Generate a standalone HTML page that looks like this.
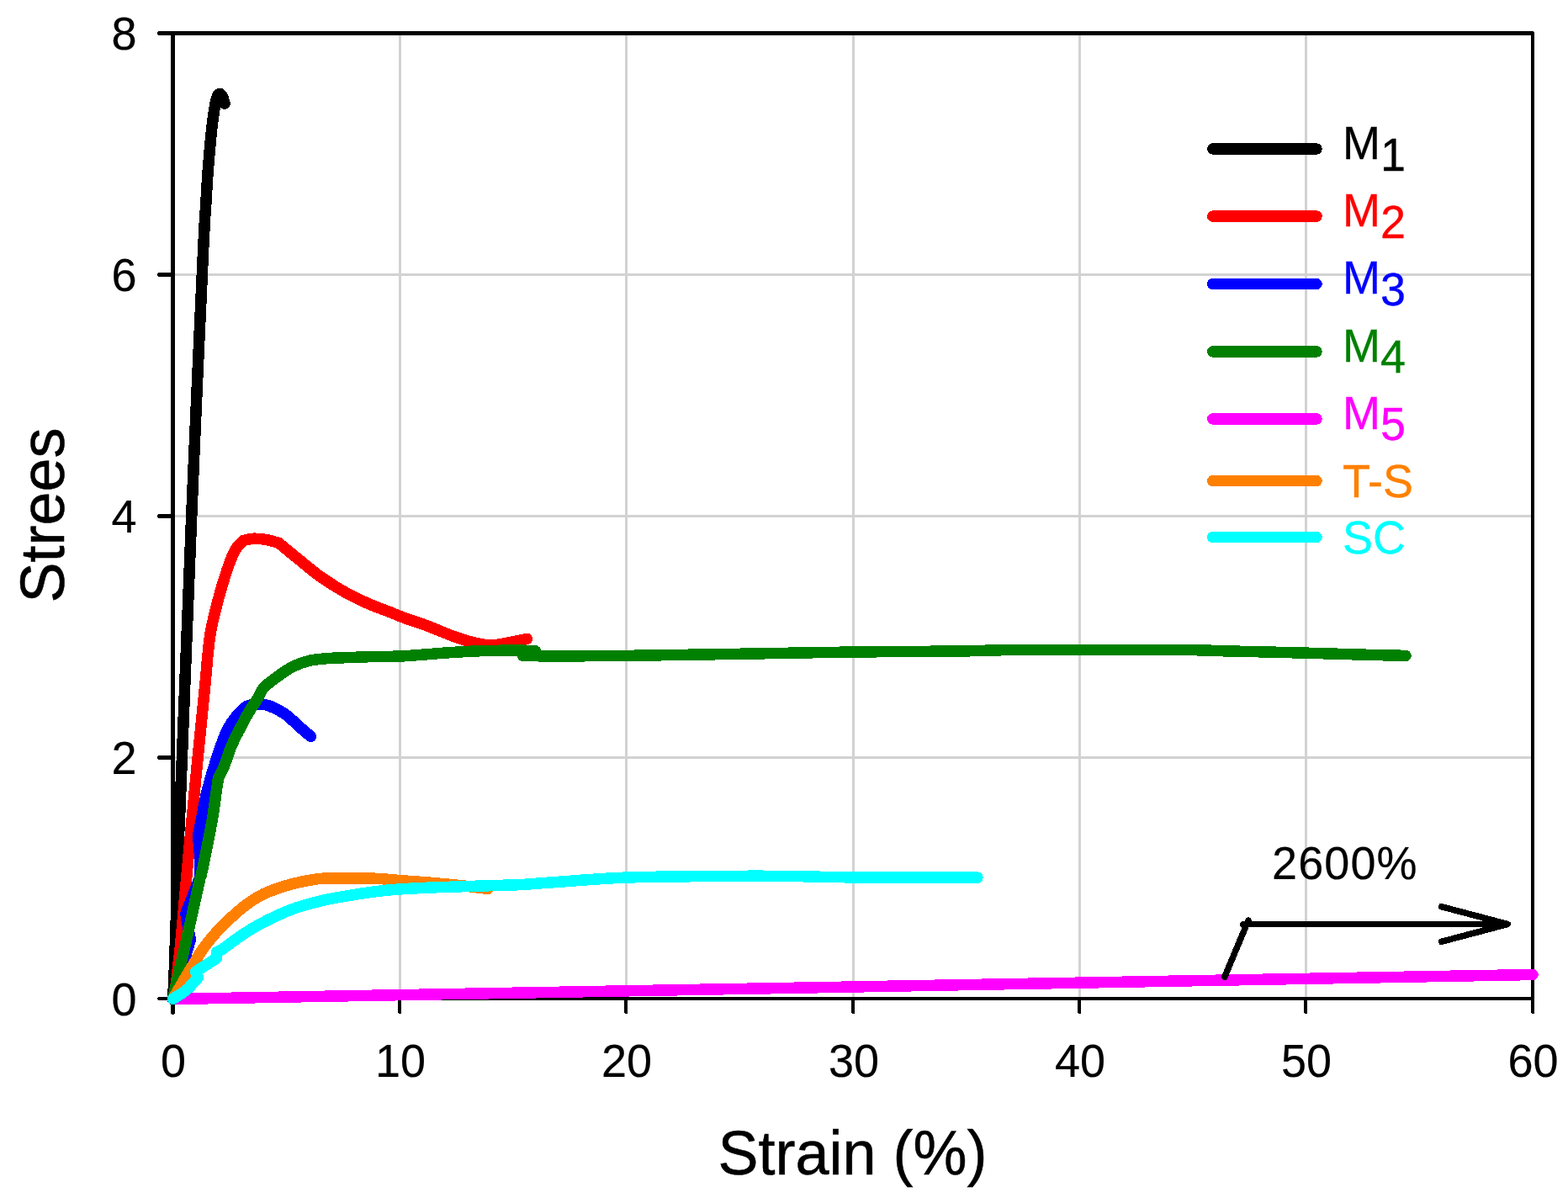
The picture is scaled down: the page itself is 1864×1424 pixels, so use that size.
<!DOCTYPE html>
<html lang="en"><head><meta charset="utf-8"><title>Stress-strain curves</title>
<style>
html,body{margin:0;padding:0;background:#fff;}
body{width:1864px;height:1424px;overflow:hidden;}
svg{display:block;}
text{font-family:"Liberation Sans",Arial,Helvetica,sans-serif;}
.tick{font-size:54px;fill:#000;stroke:#000;stroke-width:0.2px;}
.title{font-size:72px;fill:#000;stroke:#000;stroke-width:0.5px;}
.leg{font-size:54px;stroke-width:0.3px;}
.crv{fill:none;stroke-width:13.5;stroke-linecap:round;stroke-linejoin:round;shape-rendering:crispEdges;}
</style></head><body>
<svg width="1864" height="1424" viewBox="0 0 1864 1424" role="img" aria-label="Stress-strain curves">
<rect x="0" y="0" width="1864" height="1424" fill="#ffffff"/>
<g fill="#d2d2d2" shape-rendering="crispEdges">
<rect x="474" y="42" width="3" height="1143"/>
<rect x="743" y="42" width="3" height="1143"/>
<rect x="1013" y="42" width="3" height="1143"/>
<rect x="1282" y="42" width="3" height="1143"/>
<rect x="1551" y="42" width="3" height="1143"/>
<rect x="208" y="325" width="1612" height="3"/>
<rect x="208" y="612" width="1612" height="3"/>
<rect x="208" y="899" width="1612" height="3"/>
</g>
<g fill="#000" shape-rendering="crispEdges">
<rect x="203" y="37" width="5" height="1168"/>
<rect x="188" y="37" width="1635" height="5"/>
<rect x="187" y="38" width="1" height="3"/>
<rect x="1820" y="38" width="4" height="1166"/>
<rect x="1821" y="1204" width="3" height="1"/>
<rect x="188" y="1185" width="1636" height="4"/>
<rect x="187" y="1186" width="1" height="2"/>
<rect x="188" y="324" width="15" height="5"/>
<rect x="187" y="325" width="1" height="3"/>
<rect x="188" y="611" width="15" height="5"/>
<rect x="187" y="612" width="1" height="3"/>
<rect x="188" y="898" width="15" height="5"/>
<rect x="187" y="899" width="1" height="3"/>
<rect x="473" y="1189" width="4" height="15"/>
<rect x="474" y="1204" width="3" height="1"/>
<rect x="742" y="1189" width="4" height="15"/>
<rect x="743" y="1204" width="3" height="1"/>
<rect x="1012" y="1189" width="4" height="15"/>
<rect x="1013" y="1204" width="3" height="1"/>
<rect x="1281" y="1189" width="4" height="15"/>
<rect x="1282" y="1204" width="3" height="1"/>
<rect x="1550" y="1189" width="4" height="15"/>
<rect x="1551" y="1204" width="3" height="1"/>
<rect x="204" y="1205" width="3" height="0.5"/>
</g>
<path class="crv" stroke="#000000" d="M205.5,1187.5 C205.8,1181.2 206.2,1181.5 207.4,1150.0 C208.6,1118.5 211.3,1029.5 212.4,998.3 C213.5,967.1 213.3,978.5 213.9,963.0 C214.5,947.5 215.0,936.3 216.2,905.0 C217.4,873.7 218.9,835.5 221.3,775.0 C223.7,714.5 227.3,621.2 230.7,542.0 C234.1,462.8 239.1,350.3 241.5,300.0 C243.9,249.7 243.9,257.4 244.9,240.4 C245.9,223.5 246.5,212.3 247.6,198.3 C248.7,184.3 250.2,167.9 251.4,156.2 C252.7,144.5 254.0,134.8 255.1,128.1 C256.2,121.4 256.8,118.8 257.8,116.0 C258.8,113.2 259.9,111.7 261.0,111.4 C262.1,111.2 263.3,112.6 264.3,114.5 C265.3,116.4 266.6,121.6 267.0,123.0"/>
<path class="crv" stroke="#ff0000" d="M205.5,1187.5 C206.2,1184.2 208.6,1174.4 209.6,1167.8 C210.6,1161.2 210.8,1156.0 211.7,1148.0 C212.6,1140.0 213.2,1138.0 214.9,1120.0 C216.6,1102.0 219.7,1065.2 222.0,1040.0 C224.3,1014.8 226.4,992.1 228.6,968.8 C230.8,945.5 232.6,926.5 235.2,900.0 C237.8,873.5 242.2,830.2 244.2,810.0 C246.2,789.8 245.9,788.4 247.0,778.5 C248.1,768.6 248.8,759.8 250.5,750.4 C252.2,741.0 254.5,731.8 256.9,722.4 C259.2,713.0 261.8,703.7 264.6,694.3 C267.5,684.9 271.3,673.2 274.0,666.2 C276.7,659.2 278.1,656.1 280.7,652.1 C283.3,648.1 287.9,644.1 289.4,642.5 C291.5,642.1 297.2,640.4 301.8,640.2 C306.4,640.1 312.3,640.7 317.2,641.6 C322.1,642.5 328.9,644.8 331.3,645.4 C334.8,648.3 344.2,656.1 352.4,662.7 C360.6,669.3 371.0,678.4 380.4,685.1 C389.8,691.8 399.1,697.7 408.5,703.0 C417.9,708.3 427.2,712.8 436.6,717.0 C446.0,721.2 457.5,725.1 464.7,728.0 C471.9,730.9 472.8,731.6 480.0,734.2 C487.2,736.9 498.6,740.4 507.9,743.9 C517.2,747.4 527.7,752.1 535.8,755.1 C543.9,758.1 549.7,760.2 556.7,762.1 C563.7,764.0 571.8,765.8 577.6,766.5 C583.4,767.2 587.0,766.7 591.6,766.2 C596.2,765.7 600.9,764.6 605.5,763.7 C610.1,762.8 616.0,761.7 619.5,761.0 C623.0,760.3 625.3,759.6 626.5,759.3"/>
<path class="crv" stroke="#0000ff" d="M205.5,1187.5 C209.0,1175.8 222.8,1128.8 226.3,1117.0 C225.4,1111.8 221.7,1091.2 220.8,1086.0 C223.0,1080.4 231.1,1059.7 234.0,1052.4 C236.9,1045.1 237.3,1043.7 238.0,1042.0 C237.9,1038.0 237.9,1026.1 237.5,1018.0 C237.1,1009.9 235.8,997.5 235.5,993.4 C236.3,989.3 238.6,977.8 240.4,968.8 C242.2,959.8 243.6,950.3 246.4,939.3 C249.2,928.3 253.4,914.0 257.0,903.0 C260.6,892.0 264.4,881.0 267.7,873.2 C271.0,865.5 272.9,862.0 277.0,856.5 C281.1,851.0 287.6,843.7 292.0,840.5 C296.4,837.3 299.2,837.5 303.6,837.1 C308.0,836.8 312.6,836.5 318.3,838.4 C324.0,840.2 331.4,843.7 338.0,848.2 C344.6,852.7 352.5,860.9 357.7,865.4 C362.9,869.9 367.4,873.7 369.4,875.4"/>
<path class="crv" stroke="#008000" d="M205.5,1187.5 C205.9,1185.6 206.6,1182.5 208.0,1176.2 C209.4,1170.0 211.8,1159.4 214.0,1150.0 C216.2,1140.6 217.2,1136.7 221.0,1120.0 C224.8,1103.3 233.5,1063.3 236.5,1050.0 C239.5,1036.7 238.0,1045.3 239.2,1040.0 C240.4,1034.7 242.5,1025.0 243.9,1018.0 C245.3,1011.0 246.2,1006.5 247.8,998.3 C249.4,990.1 251.6,978.6 253.2,968.8 C254.8,959.0 256.3,946.7 257.4,939.3 C258.5,931.9 259.2,927.0 259.6,924.5 C260.8,922.1 264.2,916.1 266.7,910.0 C269.2,903.9 271.7,895.0 274.6,888.0 C277.5,881.0 280.8,874.8 284.1,868.3 C287.4,861.8 290.7,855.2 294.5,848.7 C298.3,842.2 303.8,834.2 307.0,829.0 C310.2,823.8 310.0,821.4 313.5,817.5 C317.0,813.6 322.5,809.7 328.2,805.5 C333.9,801.3 341.2,795.9 347.8,792.5 C354.4,789.1 360.9,787.0 367.5,785.4 C374.1,783.8 381.8,783.3 387.2,782.8 C392.6,782.2 391.9,782.4 400.0,782.1 C408.1,781.8 422.7,781.2 436.0,780.8 C449.3,780.4 463.4,780.7 480.0,779.8 C496.6,778.9 519.5,776.6 535.8,775.6 C552.1,774.6 563.6,773.9 577.6,773.5 C591.6,773.1 609.7,773.2 619.5,773.2 C629.3,773.2 633.7,773.7 636.5,773.8 C634.0,774.7 624.0,778.4 621.5,779.3 C627.9,779.4 639.5,780.0 660.0,780.0 C680.5,780.0 706.5,779.9 744.8,779.4 C783.1,778.9 844.8,777.8 889.7,777.1 C934.6,776.4 972.6,775.5 1014.3,775.0 C1056.0,774.5 1107.0,774.4 1140.0,774.0 C1173.0,773.6 1168.7,772.8 1212.0,772.5 C1255.3,772.2 1358.9,772.3 1400.0,772.5 C1441.1,772.7 1433.0,773.3 1458.7,773.9 C1484.4,774.5 1525.0,775.4 1554.0,776.2 C1583.0,777.0 1613.0,778.0 1632.5,778.5 C1652.0,779.0 1664.6,779.2 1671.0,779.4"/>
<path class="crv" stroke="#ff00ff" d="M205.5,1187.5 L1822.0,1158.5"/>
<path class="crv" stroke="#ff8000" d="M205.5,1187.5 C211.2,1177.9 230.8,1143.7 239.8,1130.1 C248.8,1116.5 252.9,1113.0 259.5,1105.7 C266.1,1098.5 272.6,1092.4 279.2,1086.6 C285.8,1080.8 292.2,1075.5 298.8,1071.1 C305.4,1066.7 310.3,1063.7 318.5,1060.3 C326.7,1056.9 338.2,1053.1 348.0,1050.5 C357.8,1047.9 368.8,1045.9 377.5,1044.8 C386.2,1043.7 388.4,1044.0 400.0,1043.9 C411.6,1043.8 434.6,1043.8 447.2,1044.3 C459.8,1044.8 463.8,1045.7 475.6,1046.6 C487.4,1047.5 505.4,1048.7 518.0,1049.8 C530.6,1050.9 540.7,1051.9 551.0,1053.0 C561.3,1054.1 575.2,1055.8 580.0,1056.4"/>
<path class="crv" stroke="#00ffff" d="M205.5,1187.5 C208.2,1185.7 217.0,1180.6 222.0,1176.4 C227.0,1172.2 233.1,1164.5 235.3,1162.1 C234.8,1160.9 233.0,1156.3 232.5,1155.1 C236.7,1152.4 253.3,1141.7 257.5,1139.0 C257.6,1137.8 257.8,1132.8 257.8,1131.5 C258.9,1131.0 260.8,1130.6 264.4,1128.2 C268.0,1125.8 273.5,1121.3 279.2,1117.3 C284.9,1113.3 292.2,1108.3 298.8,1104.3 C305.4,1100.3 310.3,1097.5 318.5,1093.5 C326.7,1089.5 338.2,1084.1 348.0,1080.5 C357.8,1076.9 368.8,1074.0 377.5,1071.8 C386.2,1069.5 388.4,1069.0 400.0,1067.0 C411.6,1065.0 434.6,1061.3 447.2,1059.6 C459.8,1057.9 463.8,1057.7 475.6,1056.9 C487.4,1056.1 505.4,1055.3 518.0,1054.8 C530.6,1054.3 539.2,1054.1 551.0,1053.7 C562.8,1053.3 577.4,1052.9 588.9,1052.5 C600.4,1052.1 608.1,1052.2 620.0,1051.5 C631.9,1050.8 639.3,1050.0 660.0,1048.6 C680.7,1047.2 710.2,1044.3 744.0,1043.1 C777.8,1041.9 831.2,1041.7 863.0,1041.4 C894.8,1041.1 910.9,1041.2 935.0,1041.4 C959.1,1041.6 969.8,1042.5 1007.6,1042.8 C1045.4,1043.1 1136.3,1043.0 1162.0,1043.1"/>
<g stroke="#000" fill="none" stroke-linecap="round" stroke-linejoin="round" stroke-width="7.5" shape-rendering="crispEdges">
<line x1="1455.8" y1="1161.3" x2="1483.9" y2="1094.2"/>
<line x1="1477.5" y1="1098.5" x2="1792" y2="1098.5" stroke-width="7"/>
<polyline points="1713.5,1077.7 1792.3,1098.5 1713.5,1119.3"/>
</g>
<text class="tick" transform="translate(1512.0,1044.7) scale(1,1.040)" letter-spacing="1.1">2600%</text>
<line x1="1441.8" y1="177.0" x2="1565" y2="177.0" stroke="#000000" stroke-width="13.5" stroke-linecap="round" shape-rendering="crispEdges"/>
<text class="leg" transform="translate(1596.0,188.7) scale(1,1.040)" fill="#000000" stroke="#000000">M<tspan dy="13.3">1</tspan></text>
<line x1="1441.8" y1="257.1" x2="1565" y2="257.1" stroke="#ff0000" stroke-width="13.5" stroke-linecap="round" shape-rendering="crispEdges"/>
<text class="leg" transform="translate(1596.0,268.8) scale(1,1.040)" fill="#ff0000" stroke="#ff0000">M<tspan dy="13.3">2</tspan></text>
<line x1="1441.8" y1="337.5" x2="1565" y2="337.5" stroke="#0000ff" stroke-width="13.5" stroke-linecap="round" shape-rendering="crispEdges"/>
<text class="leg" transform="translate(1596.0,349.2) scale(1,1.040)" fill="#0000ff" stroke="#0000ff">M<tspan dy="13.3">3</tspan></text>
<line x1="1441.8" y1="417.9" x2="1565" y2="417.9" stroke="#008000" stroke-width="13.5" stroke-linecap="round" shape-rendering="crispEdges"/>
<text class="leg" transform="translate(1596.0,429.6) scale(1,1.040)" fill="#008000" stroke="#008000">M<tspan dy="13.3">4</tspan></text>
<line x1="1441.8" y1="497.9" x2="1565" y2="497.9" stroke="#ff00ff" stroke-width="13.5" stroke-linecap="round" shape-rendering="crispEdges"/>
<text class="leg" transform="translate(1596.0,509.6) scale(1,1.040)" fill="#ff00ff" stroke="#ff00ff">M<tspan dy="13.3">5</tspan></text>
<line x1="1441.8" y1="571.6" x2="1565" y2="571.6" stroke="#ff8000" stroke-width="13.5" stroke-linecap="round" shape-rendering="crispEdges"/>
<text class="leg" transform="translate(1596.0,590.9) scale(1,1.040)" fill="#ff8000" stroke="#ff8000">T-S</text>
<line x1="1441.8" y1="638.5" x2="1565" y2="638.5" stroke="#00ffff" stroke-width="13.5" stroke-linecap="round" shape-rendering="crispEdges"/>
<text class="leg" transform="translate(1596.0,658.3) scale(1,1.040)" fill="#00ffff" stroke="#00ffff">SC</text>
<text class="tick" transform="translate(206.0,1280.2) scale(1,1.040)" text-anchor="middle">0</text>
<text class="tick" transform="translate(476.0,1280.2) scale(1,1.040)" text-anchor="middle">10</text>
<text class="tick" transform="translate(745.0,1280.2) scale(1,1.040)" text-anchor="middle">20</text>
<text class="tick" transform="translate(1015.0,1280.2) scale(1,1.040)" text-anchor="middle">30</text>
<text class="tick" transform="translate(1284.0,1280.2) scale(1,1.040)" text-anchor="middle">40</text>
<text class="tick" transform="translate(1553.0,1280.2) scale(1,1.040)" text-anchor="middle">50</text>
<text class="tick" transform="translate(1822.5,1280.2) scale(1,1.040)" text-anchor="middle">60</text>
<text class="tick" transform="translate(162.5,1206.7) scale(1,1.040)" text-anchor="end">0</text>
<text class="tick" transform="translate(162.5,920.2) scale(1,1.040)" text-anchor="end">2</text>
<text class="tick" transform="translate(162.5,633.2) scale(1,1.040)" text-anchor="end">4</text>
<text class="tick" transform="translate(162.5,346.2) scale(1,1.040)" text-anchor="end">6</text>
<text class="tick" transform="translate(162.5,59.2) scale(1,1.040)" text-anchor="end">8</text>
<text class="title" transform="translate(1013.5,1396.2) scale(1,1.040)" text-anchor="middle">Strain (%)</text>
<text class="title" transform="translate(75.5,612.5) rotate(-90) scale(1,1.040)" text-anchor="middle">Strees</text>
</svg>
</body></html>
